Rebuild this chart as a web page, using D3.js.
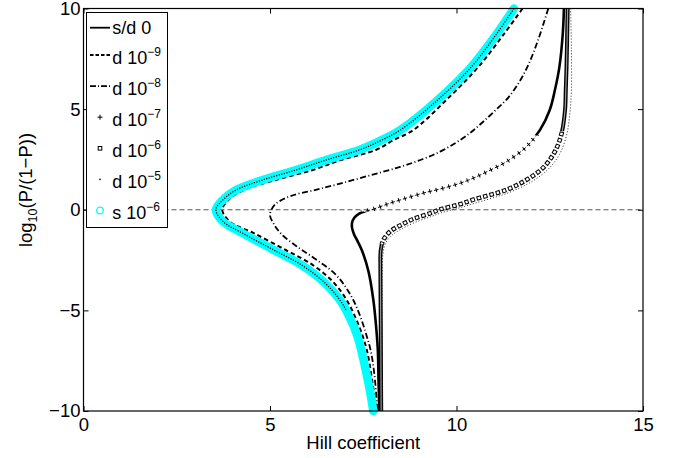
<!DOCTYPE html>
<html>
<head>
<meta charset="utf-8">
<script src="https://cdn.jsdelivr.net/npm/d3@7"></script>
<style>
  body { margin: 0; background: #fff; }
  svg { display: block; font-family: "Liberation Sans", Arial, sans-serif; }
</style>
</head>
<body>
<svg id="chart" width="680" height="458"></svg>
<script>
// [hill coefficient, log10(P/(1-P))], top of the curve first
const curveSD0 = [[11.54,10],[11.1,8.8],[10.4,7.1],[9.5,5.46],[8.5,3.97],[7.95,3.42],[7.41,2.98],[6.52,2.48],[5.72,1.99],[4.82,1.49],[4.1,0.99],[3.74,0.5],[3.55,0],[3.75,-0.6],[4.25,-1.15],[5.1,-2.0],[5.85,-2.75],[6.45,-3.6],[6.88,-4.5],[7.15,-5.4],[7.33,-6.2],[7.45,-7.0],[7.57,-8.0],[7.68,-9.0],[7.77,-10]];
const curveD9 = [[11.77,10],[11.29,8.78],[10.59,7.11],[9.73,5.46],[8.85,3.97],[8.3,3.45],[7.85,2.98],[6.92,2.48],[6.17,1.99],[5.17,1.49],[4.31,0.99],[3.89,0.5],[3.72,0],[3.93,-0.6],[4.55,-1.15],[5.42,-2.0],[6.15,-2.75],[6.7,-3.6],[7.06,-4.5],[7.3,-5.4],[7.47,-6.2],[7.6,-7.0],[7.7,-8.0],[7.78,-9.0],[7.85,-10]];
const curveD8 = [[12.46,10],[12.2,8.5],[11.95,7.3],[11.7,6.4],[11.4,5.6],[11.05,4.95],[10.7,4.35],[10.36,3.81],[10.0,3.35],[9.56,2.89],[9.1,2.52],[8.49,2.13],[7.7,1.72],[6.88,1.3],[6.2,0.98],[5.55,0.68],[5.13,0.25],[5.0,-0.25],[5.1,-0.7],[5.3,-1.2],[5.7,-1.8],[6.1,-2.3],[6.75,-3.2],[7.15,-4.2],[7.4,-5.2],[7.58,-6.2],[7.7,-7.0],[7.8,-8.2],[7.88,-10]];
const curveD7 = [[12.88,10],[12.85,8.77],[12.76,7.11],[12.64,5.96],[12.5,4.96],[12.24,3.97],[11.88,3.14],[11.35,2.4],[10.85,1.92],[10.45,1.57],[10.05,1.29],[9.56,1.03],[9.11,0.83],[8.66,0.58],[8.22,0.33],[7.77,0.03],[7.55,-0.08],[7.38,-0.2],[7.26,-0.4],[7.2,-0.65],[7.2,-0.9],[7.25,-1.2],[7.33,-1.5],[7.46,-2.0],[7.64,-3.06],[7.77,-4.47],[7.83,-5.5],[7.89,-6.95],[7.91,-8.5],[7.93,-10]];
const curveD6 = [[12.98,10],[12.95,7.11],[12.93,5.96],[12.91,4.96],[12.82,3.81],[12.64,2.9],[12.33,2.1],[11.88,1.49],[11.35,1.0],[10.45,0.5],[10.05,0.25],[9.56,0.02],[9.29,-0.18],[8.84,-0.46],[8.49,-0.78],[8.22,-1.08],[8.04,-1.5],[7.97,-2.0],[7.96,-3],[7.97,-6],[7.98,-10]];
const curveD5 = [[13.06,10],[13.08,8],[13.08,6],[13.04,4.8],[12.95,3.7],[12.76,2.75],[12.45,2.0],[12.0,1.38],[11.4,0.85],[10.5,0.33],[10.05,0.08],[9.6,-0.15],[9.3,-0.35],[8.9,-0.62],[8.55,-0.93],[8.28,-1.25],[8.1,-1.65],[8.03,-2.2],[8.01,-3],[8.01,-6],[8.02,-10]];
const curveS6 = curveSD0;

const legendLabels = [["s/d 0", null], ["d 10", "−9"], ["d 10", "−8"], ["d 10", "−7"], ["d 10", "−6"], ["d 10", "−5"], ["s 10", "−6"]];
const xTicks = [0, 5, 10, 15];
const yTicks = [-10, -5, 0, 5, 10];

const svg = d3.select("#chart");
const pLeft = 83.5, pRight = 643, pTop = 8.5, pBottom = 411;
const x = d3.scaleLinear().domain([0, 15]).range([pLeft, pRight]);
const y = d3.scaleLinear().domain([-10, 10]).range([pBottom, pTop]);
const line = d3.line().x(d => x(d[0])).y(d => y(d[1])).curve(d3.curveCatmullRom);

// horizontal bands where the markers sit far apart / pile up into a solid line
const defs = svg.append("defs");
function band(id, ranges) {
    const cp = defs.append("clipPath").attr("id", id);
    ranges.forEach(r => cp.append("rect")
        .attr("x", 0).attr("width", 680)
        .attr("y", y(r[1])).attr("height", y(r[0]) - y(r[1])));
}
band("upper", [[-5, 12]]);
band("d7sparse", [[-0.1, 3.7]]);
band("d7dense", [[-12, -0.1], [3.7, 12]]);
band("d6sparse", [[-1.7, 3.9]]);
band("d6dense", [[-12, -1.7], [3.9, 12]]);

// zero reference
svg.append("line")
    .attr("x1", x(0)).attr("x2", x(15))
    .attr("y1", y(0)).attr("y2", y(0))
    .attr("stroke", "#555").attr("stroke-width", 1)
    .attr("stroke-dasharray", "5,3");

const g = svg.append("g").attr("fill", "none");

g.append("path").attr("d", line(curveSD0))
    .attr("stroke", "#000").attr("stroke-width", 1.5);

g.append("path").attr("d", line(curveD9))
    .attr("stroke", "#000").attr("stroke-width", 2)
    .attr("stroke-dasharray", "4.5,3");

g.append("path").attr("d", line(curveD8))
    .attr("stroke", "#000").attr("stroke-width", 1.8)
    .attr("stroke-dasharray", "6,2.5,1,2.5");

// d 1e-7 plus markers
g.append("path").attr("d", line(curveD7))
    .attr("clip-path", "url(#d7dense)")
    .attr("stroke", "#000").attr("stroke-width", 2.6);
g.append("path").attr("d", line(curveD7))
    .attr("clip-path", "url(#d7sparse)")
    .attr("stroke", "#000").attr("stroke-width", 4.5)
    .attr("stroke-dasharray", "1,5.5");
g.append("path").attr("d", line(curveD7))
    .attr("clip-path", "url(#d7sparse)")
    .attr("stroke", "#000").attr("stroke-width", 1)
    .attr("stroke-dasharray", "4.5,2").attr("stroke-dashoffset", 1.75);

// d 1e-6 square markers
g.append("path").attr("d", line(curveD6))
    .attr("clip-path", "url(#d6dense)")
    .attr("stroke", "#000").attr("stroke-width", 4);
g.append("path").attr("d", line(curveD6))
    .attr("clip-path", "url(#d6dense)")
    .attr("stroke", "#999").attr("stroke-width", 1.2);
g.append("path").attr("d", line(curveD6))
    .attr("clip-path", "url(#d6sparse)")
    .attr("stroke", "#000").attr("stroke-width", 4.5)
    .attr("stroke-dasharray", "4.5,2");
g.append("path").attr("d", line(curveD6))
    .attr("clip-path", "url(#d6sparse)")
    .attr("stroke", "#fff").attr("stroke-width", 2.5)
    .attr("stroke-dasharray", "2.5,4").attr("stroke-dashoffset", -1);

// d 1e-5 point markers
g.append("path").attr("d", line(curveD5))
    .attr("stroke", "#222").attr("stroke-width", 1)
    .attr("stroke-dasharray", "1,2");

// s 1e-6 circles
g.append("path").attr("d", line(curveS6))
    .attr("stroke", "#00ffff").attr("stroke-width", 8.5)
    .attr("stroke-linecap", "round");

// s/d 0 line seen through the hollow circles
g.append("path").attr("d", line(curveSD0))
    .attr("clip-path", "url(#upper)")
    .attr("stroke", "#000").attr("stroke-width", 1.3)
    .attr("stroke-dasharray", "1.2,1.4");

// axes box and ticks
const fmt = d3.format("d");
const axes = [
    svg.append("g").attr("transform", `translate(0,${pBottom})`)
        .call(d3.axisBottom(x).tickValues(xTicks).tickSizeInner(-5).tickSizeOuter(0).tickPadding(7).tickFormat(fmt)),
    svg.append("g").attr("transform", `translate(0,${pTop})`)
        .call(d3.axisTop(x).tickValues(xTicks).tickSizeInner(-5).tickSizeOuter(0).tickFormat("")),
    svg.append("g").attr("transform", `translate(${pLeft},0)`)
        .call(d3.axisLeft(y).tickValues(yTicks).tickSizeInner(-5).tickSizeOuter(0).tickPadding(3).tickFormat(fmt)),
    svg.append("g").attr("transform", `translate(${pRight},0)`)
        .call(d3.axisRight(y).tickValues(yTicks).tickSizeInner(-5).tickSizeOuter(0).tickFormat(""))
];
axes.forEach(a => {
    a.attr("font-size", 18.5).attr("font-family", "Liberation Sans, Arial, sans-serif");
    a.select(".domain").remove();
    a.selectAll("text").attr("fill", "#000");
    a.selectAll(".tick line").attr("stroke", "#000");
});

svg.append("rect")
    .attr("x", pLeft).attr("y", pTop)
    .attr("width", pRight - pLeft).attr("height", pBottom - pTop)
    .attr("fill", "none").attr("stroke", "#000").attr("stroke-width", 1.2);

svg.append("text")
    .attr("x", x(7.5)).attr("y", 449)
    .attr("text-anchor", "middle").attr("font-size", 18.5)
    .text("Hill coefficient");

const yl = svg.append("text")
    .attr("transform", "translate(32,190) rotate(-90)")
    .attr("text-anchor", "middle").attr("font-size", 18.5);
yl.append("tspan").text("log");
yl.append("tspan").attr("font-size", 12.5).attr("dy", 5).text("10");
yl.append("tspan").attr("dy", -5).text("(P/(1−P))");

// legend
const lg = svg.append("g");
lg.append("rect")
    .attr("x", 86.5).attr("y", 12.5).attr("width", 81).attr("height", 215)
    .attr("fill", "#fff").attr("stroke", "#000").attr("stroke-width", 1);
const rowY = [27.7, 55, 86.1, 117.2, 148.3, 179.4, 210.5];
const samples = [
    s => s.append("line").attr("x1", 90).attr("x2", 110).attr("stroke", "#000").attr("stroke-width", 1.8),
    s => s.append("line").attr("x1", 90).attr("x2", 110).attr("stroke", "#000").attr("stroke-width", 2).attr("stroke-dasharray", "3.5,2"),
    s => s.append("line").attr("x1", 90).attr("x2", 110).attr("stroke", "#000").attr("stroke-width", 1.6).attr("stroke-dasharray", "6,2,1,2"),
    s => s.append("path").attr("d", "M97.5,0H102.5M100,-2.5V2.5").attr("stroke", "#000").attr("stroke-width", 1),
    s => s.append("rect").attr("x", 98.2).attr("y", -1.8).attr("width", 3.6).attr("height", 3.6).attr("fill", "none").attr("stroke", "#000").attr("stroke-width", 1),
    s => s.append("circle").attr("cx", 100).attr("r", 0.8).attr("fill", "#000"),
    s => s.append("circle").attr("cx", 100).attr("r", 3.3).attr("fill", "none").attr("stroke", "#00ffff").attr("stroke-width", 1.3)
];
legendLabels.forEach((lab, i) => {
    const row = lg.append("g").attr("transform", `translate(0,${rowY[i]})`);
    samples[i](row);
    const t = row.append("text")
        .attr("x", 112.3).attr("y", lab[1] ? 8.5 : 6)
        .attr("font-size", 18);
    t.append("tspan").text(lab[0]);
    if (lab[1]) t.append("tspan").attr("font-size", 12).attr("dy", -8).text(lab[1]);
});
</script>
</body>
</html>
